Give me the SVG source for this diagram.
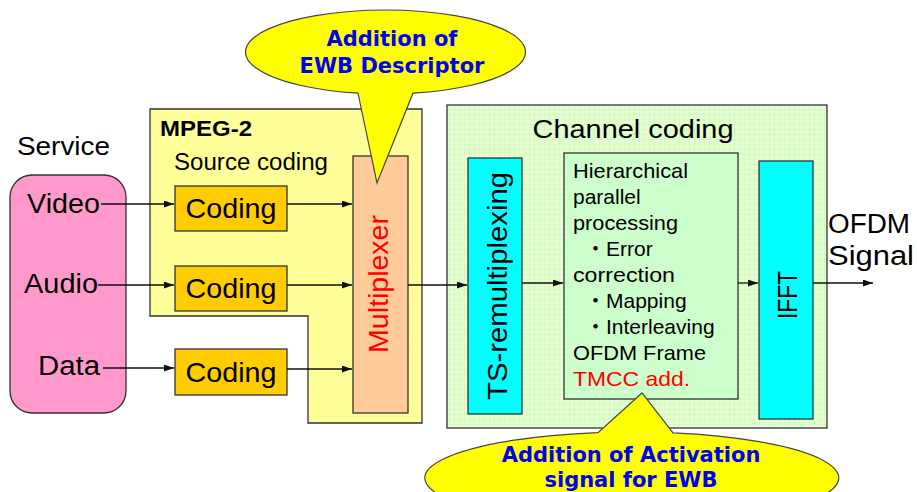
<svg xmlns="http://www.w3.org/2000/svg" width="917" height="492" viewBox="0 0 917 492">
  <style>
    .t { font-family: "Liberation Sans", Arial, sans-serif; fill: #000; }
    .j { font-family: "Liberation Sans", "Noto Sans CJK JP", sans-serif; }
    .box { stroke: #333; stroke-width: 1.3; }
    .conn { stroke: #111; stroke-width: 1.3; fill: none; marker-end: url(#arrow); }
    .call { fill: #FFFF00; stroke: #444; stroke-width: 1.2; }
    .ct { font-family: "DejaVu Sans", Verdana, sans-serif; font-weight: bold; font-size: 21px; fill: #0000F0; text-anchor: middle; }
  </style>
  <defs>
    <marker id="arrow" markerUnits="userSpaceOnUse" markerWidth="11" markerHeight="8" refX="10" refY="3.5" orient="auto">
      <path d="M0,0 L10,3.5 L0,7 z" fill="#111"/>
    </marker>
    <pattern id="grid" width="5" height="5" patternUnits="userSpaceOnUse">
      <rect width="5" height="5" fill="#E2FFCF"/>
      <path d="M5,0 V5 M0,5 H5" stroke="#C9EDB3" stroke-width="0.7"/>
    </pattern>
  </defs>

  <!-- service sources -->
  <g id="service">
    <text class="t" x="17" y="155" font-size="26" textLength="93" lengthAdjust="spacingAndGlyphs">Service</text>
    <rect class="box" x="10" y="175" width="116" height="238" rx="22" fill="#FF99CC"/>
    <text class="t" x="27" y="213" font-size="27" textLength="73" lengthAdjust="spacingAndGlyphs">Video</text>
    <text class="t" x="24" y="293" font-size="27" textLength="74" lengthAdjust="spacingAndGlyphs">Audio</text>
    <text class="t" x="38" y="375" font-size="27" textLength="62" lengthAdjust="spacingAndGlyphs">Data</text>
  </g>

  <!-- MPEG-2 source coding -->
  <g id="mpeg2">
    <path class="box" d="M150,109 H422 V423 H308 V316 H150 Z" fill="#FFFF99"/>
    <text class="t" x="160" y="136" font-size="22" font-weight="bold" textLength="92" lengthAdjust="spacingAndGlyphs">MPEG-2</text>
    <text class="t" x="174" y="170" font-size="23" textLength="154" lengthAdjust="spacingAndGlyphs">Source coding</text>
  </g>
  <g id="coding-video">
    <rect class="box" x="175" y="186" width="112" height="45" fill="#FFCC00"/>
    <text class="t" x="231" y="218" font-size="28" text-anchor="middle" textLength="91" lengthAdjust="spacingAndGlyphs">Coding</text>
  </g>
  <g id="coding-audio">
    <rect class="box" x="175" y="266" width="112" height="45" fill="#FFCC00"/>
    <text class="t" x="231" y="298" font-size="28" text-anchor="middle" textLength="91" lengthAdjust="spacingAndGlyphs">Coding</text>
  </g>
  <g id="coding-data">
    <rect class="box" x="175" y="349" width="112" height="46" fill="#FFCC00"/>
    <text class="t" x="231" y="382" font-size="28" text-anchor="middle" textLength="91" lengthAdjust="spacingAndGlyphs">Coding</text>
  </g>
  <g id="multiplexer">
    <rect class="box" x="353" y="156" width="55" height="257" fill="#FFCC99"/>
    <text class="t" transform="translate(388,284) rotate(-90)" font-size="27" text-anchor="middle" style="fill:#FF0000" textLength="138" lengthAdjust="spacingAndGlyphs">Multiplexer</text>
  </g>

  <!-- channel coding -->
  <g id="channel-coding">
    <rect class="box" x="447" y="105" width="380" height="323" fill="url(#grid)"/>
    <text class="t" x="633" y="138" font-size="26" text-anchor="middle" textLength="201" lengthAdjust="spacingAndGlyphs">Channel coding</text>
  </g>
  <g id="ts-remux">
    <rect class="box" x="468" y="158" width="54" height="256" fill="#00FFFF"/>
    <text class="t" transform="translate(507,286) rotate(-90)" font-size="28" text-anchor="middle" textLength="228" lengthAdjust="spacingAndGlyphs">TS-remultiplexing</text>
  </g>
  <g id="hierarchical">
    <rect class="box" x="564" y="153" width="174" height="246" fill="#CCFFCC"/>
    <g class="t" font-size="21">
      <text x="573" y="178" textLength="115" lengthAdjust="spacingAndGlyphs">Hierarchical</text>
      <text x="573" y="204">parallel</text>
      <text x="573" y="230" textLength="105" lengthAdjust="spacingAndGlyphs">processing</text>
      <text class="j" x="585" y="256">・Error</text>
      <text x="573" y="282" textLength="102" lengthAdjust="spacingAndGlyphs">correction</text>
      <text class="j" x="585" y="308">・Mapping</text>
      <text class="j" x="585" y="334">・Interleaving</text>
      <text x="573" y="360" textLength="133" lengthAdjust="spacingAndGlyphs">OFDM Frame</text>
      <text x="573" y="386" style="fill:#FF0000" textLength="117" lengthAdjust="spacingAndGlyphs">TMCC  add.</text>
    </g>
  </g>
  <g id="ifft">
    <rect class="box" x="759" y="161" width="54" height="258" fill="#00FFFF"/>
    <text class="t" transform="translate(797,295) rotate(-90)" font-size="27" text-anchor="middle" textLength="48" lengthAdjust="spacingAndGlyphs">IFFT</text>
  </g>
  <g id="ofdm-signal">
    <text class="t" x="828" y="233" font-size="27" textLength="82" lengthAdjust="spacingAndGlyphs">OFDM</text>
    <text class="t" x="828" y="265" font-size="27" textLength="86" lengthAdjust="spacingAndGlyphs">Signal</text>
  </g>

  <!-- connectors -->
  <g id="connectors">
    <path class="conn" d="M101,204 H174"/>
    <path class="conn" d="M98,285 H174"/>
    <path class="conn" d="M103,368 H174"/>
    <path class="conn" d="M287,204 H352"/>
    <path class="conn" d="M287,285 H352"/>
    <path class="conn" d="M287,369 H352"/>
    <path class="conn" d="M408,285 H467"/>
    <path class="conn" d="M522,283 H563"/>
    <path class="conn" d="M738,283 H758"/>
    <path class="conn" d="M813,283 H873"/>
  </g>

  <!-- callouts -->
  <g id="callout-descriptor">
    <path class="call" d="M413,93.2 A140,42 0 1 0 358,93.2 L377,183 Z"/>
    <text class="ct" x="392" y="46">Addition of</text>
    <text class="ct" x="392" y="73">EWB Descriptor</text>
  </g>
  <g id="callout-activation">
    <path class="call" d="M598,432.6 A207,46 0 1 0 673,432.9 L642,393 Z"/>
    <text class="ct" x="631" y="462">Addition of Activation</text>
    <text class="ct" x="631" y="487">signal for EWB</text>
  </g>
</svg>
